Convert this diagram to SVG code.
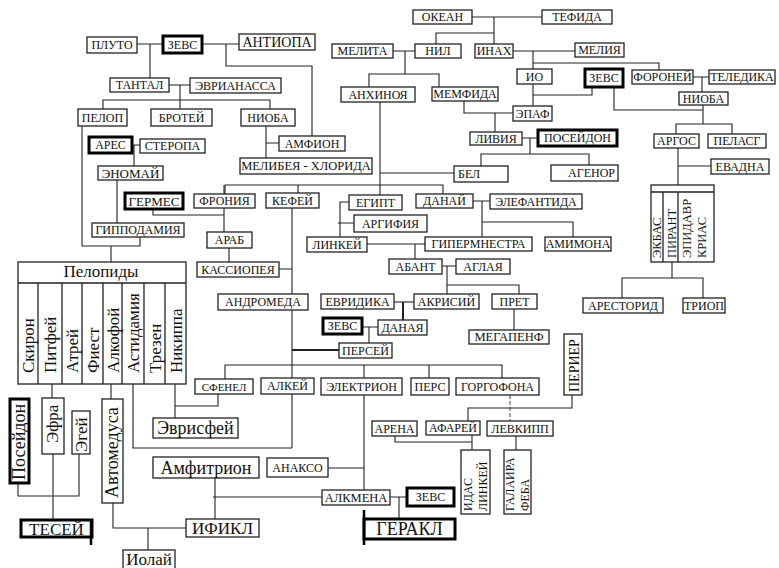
<svg xmlns="http://www.w3.org/2000/svg" width="779" height="568" viewBox="0 0 779 568">
<style>
.b{fill:#fff;stroke:#222;stroke-width:1.3}
.k{fill:#fff;stroke:#000;stroke-width:3}
text{font-family:"Liberation Serif","Times New Roman",serif;font-size:12px;fill:#111;text-anchor:middle}
.s{text-anchor:start}
.e{text-anchor:end}
.L{font-size:18px}
.M{font-size:17px}
.c path{fill:none;stroke:#222;stroke-width:1.1}
.tl{fill:none;stroke:#222;stroke-width:1.3}
</style>
<rect width="779" height="568" fill="#fff"/>
<g class="c" id="connectors">
<path d="M137,44H163M150,44V78M202,44H239M226,44V66H312V136"/>
<path d="M169,85H190M180,85V109M103,109V100H270V109"/>
<path d="M82,126V246H140V237M111,246V262"/>
<path d="M266,126V158M266,143H279"/>
<path d="M132,145H140M134,145V166M117,180V223"/>
<path d="M225,194V185H443V194M298,185V193"/>
<path d="M380,102V195M380,173H454"/>
<path d="M153,209V215H224M224,185V232M229,248V262"/>
<path d="M292,208V448M279,269H292"/>
<path d="M292,350H339" style="stroke-width:2"/>
<path d="M225,379V365H502V378M364,365V378M429,365V378"/>
<path d="M364,395V490M328,468H364"/>
<path d="M133,384V448H292"/>
<path d="M390,497H407M399,497V519"/>
<path d="M213,497H322M215,478V519"/>
<path d="M111,384V399M113,503V528H186M148,528V550"/>
<path d="M52,384V398M53,454V520M18,483V496H79V454"/>
<path d="M175,384V418M175,406H218V394"/>
<path d="M472,17H542M494,17V44M436,44V33H494"/>
<path d="M393,51H415M405,51V74M369,87V74H439V87"/>
<path d="M513,51H575M533,51V69M533,63H659V70"/>
<path d="M533,84V106M533,95H592V87"/>
<path d="M464,101V113H513M495,113V132"/>
<path d="M693,77H709M702,77V92"/>
<path d="M614,87V110H703M703,105V124M676,134V124H732V134"/>
<path d="M522,138H538M530,138V154M481,166V154H589V165"/>
<path d="M678,148V185M678,166H711"/>
<path d="M672,262V278M622,298V278H703V298"/>
<path d="M473,201H490M482,201V237M482,222H573V237"/>
<path d="M349,202H340V237M338,223H354"/>
<path d="M367,244H425M415,244V259"/>
<path d="M442,266H456M447,266V294M447,285H519V294"/>
<path d="M514,309V330"/>
<path d="M394,302H414"/>
<path d="M403,302V320" style="stroke-width:2"/>
<path d="M362,327H378M369,327V343"/>
<path d="M510,395V421" style="stroke-dasharray:4,2;stroke:#555"/>
<path d="M468,421V408H572V395"/>
<path d="M395,436V442H472M472,435V450M516,436V450"/>
</g>
<g id="pluto"><rect class="b" x="87" y="37" width="50" height="16"/><text x="112" y="49">ПЛУТО</text></g>
<g id="zeus1"><rect class="k" x="163" y="36" width="39" height="17"/><text x="182.5" y="48.7">ЗЕВС</text></g>
<g id="antiopa"><rect class="b" x="239" y="34" width="76" height="16"/><text x="277" y="46.9" style="font-size:14px">АНТИОПА</text></g>
<g id="tantal"><rect class="b" x="110" y="78" width="59" height="14"/><text x="139.5" y="89.2">ТАНТАЛ</text></g>
<g id="evrianassa"><rect class="b" x="190" y="78" width="91" height="15"/><text x="235.5" y="89.7">ЭВРИАНАССА</text></g>
<g id="pelop"><rect class="b" x="78" y="109" width="49" height="17"/><text x="102.5" y="121.7">ПЕЛОП</text></g>
<g id="brotei"><rect class="b" x="151" y="109" width="61" height="17"/><text x="181.5" y="121.7">БРОТЕЙ</text></g>
<g id="nioba1"><rect class="b" x="241" y="109" width="54" height="17"/><text x="268" y="121.7">НИОБА</text></g>
<g id="ares"><rect class="k" x="89" y="137" width="43" height="16"/><text x="110.5" y="149.2">АРЕС</text></g>
<g id="steropa"><rect class="b" x="140" y="139" width="65" height="14"/><text x="172.5" y="150.2">СТЕРОПА</text></g>
<g id="amfion"><rect class="b" x="279" y="136" width="66" height="15"/><text x="312" y="147.7">АМФИОН</text></g>
<g id="melibeya"><rect class="b" x="240" y="158" width="132" height="16"/><text x="306" y="170.4" style="font-size:12.5px">МЕЛИБЕЯ - ХЛОРИДА</text></g>
<g id="enomai"><rect class="b" x="98" y="166" width="65" height="14"/><text x="130.5" y="177.5" style="font-size:13px">ЭНОМАЙ</text></g>
<g id="germes"><rect class="k" x="125" y="193" width="58" height="16"/><text x="154" y="205.5" style="font-size:13px">ГЕРМЕС</text></g>
<g id="fronia"><rect class="b" x="194" y="194" width="61" height="14"/><text x="224.5" y="205.2">ФРОНИЯ</text></g>
<g id="kefei"><rect class="b" x="266" y="193" width="53" height="15"/><text x="292.5" y="204.7">КЕФЕЙ</text></g>
<g id="gippodamia"><rect class="b" x="92" y="223" width="92" height="14"/><text x="138" y="234.2">ГИППОДАМИЯ</text></g>
<g id="arab"><rect class="b" x="207" y="232" width="45" height="16"/><text x="229.5" y="244.2">АРАБ</text></g>
<g id="kassiopeya"><rect class="b" x="197" y="262" width="82" height="15"/><text x="238" y="273.7">КАССИОПЕЯ</text></g>
<g id="andromeda"><rect class="b" x="218" y="294" width="90" height="16"/><text x="263" y="306.2">АНДРОМЕДА</text></g>
<g id="okean"><rect class="b" x="413" y="10" width="59" height="14"/><text x="442.5" y="21.2">ОКЕАН</text></g>
<g id="tefida"><rect class="b" x="542" y="10" width="70" height="14"/><text x="577" y="21.2">ТЕФИДА</text></g>
<g id="melita"><rect class="b" x="332" y="44" width="61" height="14"/><text x="362.5" y="55.2">МЕЛИТА</text></g>
<g id="nil"><rect class="b" x="415" y="44" width="46" height="14"/><text x="438" y="55.2">НИЛ</text></g>
<g id="inah"><rect class="b" x="475" y="44" width="38" height="14"/><text x="494" y="55.2">ИНАХ</text></g>
<g id="melia"><rect class="b" x="575" y="43" width="49" height="14"/><text x="599.5" y="54.2">МЕЛИЯ</text></g>
<g id="io"><rect class="b" x="517" y="69" width="35" height="15"/><text x="534.5" y="80.7">ИО</text></g>
<g id="zeus2"><rect class="k" x="585" y="69" width="38" height="18"/><text x="604" y="82.2">ЗЕВС</text></g>
<g id="foronei"><rect class="b" x="632" y="70" width="61" height="14"/><text x="662.5" y="81.2">ФОРОНЕЙ</text></g>
<g id="teledika"><rect class="b" x="709" y="70" width="66" height="14"/><text x="742" y="81.2">ТЕЛЕДИКА</text></g>
<g id="nioba2"><rect class="b" x="679" y="92" width="49" height="13"/><text x="703.5" y="102.7">НИОБА</text></g>
<g id="anhinoya"><rect class="b" x="341" y="87" width="74" height="15"/><text x="378" y="98.7">АНХИНОЯ</text></g>
<g id="memfida"><rect class="b" x="432" y="87" width="66" height="14"/><text x="465" y="98.2">МЕМФИДА</text></g>
<g id="epaf"><rect class="b" x="513" y="106" width="39" height="15"/><text x="532.5" y="117.7">ЭПАФ</text></g>
<g id="livia"><rect class="b" x="470" y="132" width="52" height="13"/><text x="496" y="142.7">ЛИВИЯ</text></g>
<g id="poseidon1"><rect class="k" x="538" y="130" width="79" height="16"/><text x="577.5" y="142.2">ПОСЕЙДОН</text></g>
<g id="bel"><rect class="b" x="454" y="166" width="54" height="16"/><text class="s" x="458" y="178.2">БЕЛ</text></g>
<g id="agenor"><rect class="b" x="551" y="165" width="67" height="16"/><text class="e" x="615" y="177.2">АГЕНОР</text></g>
<g id="argos"><rect class="b" x="654" y="134" width="45" height="14"/><text x="676.5" y="145.2">АРГОС</text></g>
<g id="pelasg"><rect class="b" x="708" y="134" width="58" height="14"/><text x="737" y="145.2">ПЕЛАСГ</text></g>
<g id="evadna"><rect class="b" x="711" y="159" width="58" height="15"/><text x="740" y="170.7">ЕВАДНА</text></g>
<g id="argos-children">
<rect class="b" x="651" y="185" width="63" height="77"/>
<path class="tl" d="M651,192H714M663,192V262M678,192V262"/>
<text class="s" x="661" y="258" transform="rotate(-90 661 258)" style="font-size:12.5px">ЭКБАС</text>
<text class="s" x="676" y="258" transform="rotate(-90 676 258)" style="font-size:12.5px">ПИРАНТ</text>
<text class="s" x="691" y="258" transform="rotate(-90 691 258)" style="font-size:12.5px">ЭПИДАВР</text>
<text class="s" x="706" y="258" transform="rotate(-90 706 258)" style="font-size:12.5px">КРИАС</text>
</g>
<g id="arestorid"><rect class="b" x="583" y="298" width="80" height="15"/><text x="623" y="309.7">АРЕСТОРИД</text></g>
<g id="triop"><rect class="b" x="683" y="298" width="42" height="15"/><text x="704" y="309.7">ТРИОП</text></g>
<g id="egipt"><rect class="b" x="349" y="195" width="53" height="15"/><text x="375.5" y="206.7">ЕГИПТ</text></g>
<g id="danai"><rect class="b" x="416" y="194" width="57" height="14"/><text x="444.5" y="205.2">ДАНАЙ</text></g>
<g id="elefantida"><rect class="b" x="490" y="194" width="92" height="15"/><text x="536" y="205.7">ЭЛЕФАНТИДА</text></g>
<g id="argifia"><rect class="b" x="354" y="215" width="73" height="17"/><text x="390.5" y="227.7">АРГИФИЯ</text></g>
<g id="linkei1"><rect class="b" x="307" y="237" width="60" height="15"/><text x="337" y="248.7">ЛИНКЕЙ</text></g>
<g id="gipermnestra"><rect class="b" x="425" y="237" width="107" height="14"/><text x="478.5" y="248.2">ГИПЕРМНЕСТРА</text></g>
<g id="amimona"><rect class="b" x="545" y="237" width="66" height="14"/><text x="578" y="248.2">АМИМОНА</text></g>
<g id="abant"><rect class="b" x="389" y="259" width="53" height="15"/><text x="415.5" y="270.7">АБАНТ</text></g>
<g id="aglaya"><rect class="b" x="456" y="259" width="54" height="15"/><text x="483" y="270.7">АГЛАЯ</text></g>
<g id="evridika"><rect class="b" x="321" y="294" width="73" height="15"/><text x="357.5" y="305.7">ЕВРИДИКА</text></g>
<g id="akrisii"><rect class="b" x="414" y="294" width="65" height="15"/><text x="446.5" y="305.7">АКРИСИЙ</text></g>
<g id="pret"><rect class="b" x="492" y="294" width="45" height="15"/><text x="514.5" y="305.7">ПРЕТ</text></g>
<g id="megapenf"><rect class="b" x="469" y="330" width="80" height="14"/><text x="509" y="341.4" style="font-size:12.5px">МЕГАПЕНФ</text></g>
<g id="zeus3"><rect class="k" x="323" y="318" width="39" height="16"/><text x="342.5" y="330.2">ЗЕВС</text></g>
<g id="danaya"><rect class="b" x="378" y="320" width="49" height="15"/><text x="402.5" y="331.7">ДАНАЯ</text></g>
<g id="persei"><rect class="b" x="339" y="343" width="53" height="15"/><text x="365.5" y="354.7">ПЕРСЕЙ</text></g>
<g id="sfenel"><rect class="b" x="195" y="379" width="58" height="15"/><text x="224" y="390.5" style="font-size:11px">СФЕНЕЛ</text></g>
<g id="alkei"><rect class="b" x="261" y="378" width="53" height="16"/><text x="287.5" y="390.2">АЛКЕЙ</text></g>
<g id="elektrion"><rect class="b" x="321" y="378" width="81" height="17"/><text x="361.5" y="390.7">ЭЛЕКТРИОН</text></g>
<g id="pers"><rect class="b" x="411" y="378" width="38" height="17"/><text x="430" y="390.7">ПЕРС</text></g>
<g id="gorgofona"><rect class="b" x="456" y="378" width="83" height="17"/><text x="497.5" y="390.7">ГОРГОФОНА</text></g>
<g id="perier"><rect class="b" x="564" y="334" width="18" height="61"/><text class="s" x="579" y="392" transform="rotate(-90 579 392)" style="font-size:14px">ПЕРИЕР</text></g>
<g id="arena"><rect class="b" x="372" y="421" width="45" height="15"/><text x="394.5" y="432.7">АРЕНА</text></g>
<g id="afarei"><rect class="b" x="426" y="421" width="54" height="14"/><text x="453" y="432.2">АФАРЕЙ</text></g>
<g id="levkipp"><rect class="b" x="487" y="421" width="66" height="15"/><text x="520" y="432.7">ЛЕВКИПП</text></g>
<g id="idas-linkei"><rect class="b" x="461" y="450" width="29" height="64"/>
<text class="s" x="472" y="511" transform="rotate(-90 472 511)">ИДАС</text>
<text class="s" x="487" y="511" transform="rotate(-90 487 511)">ЛИНКЕЙ</text></g>
<g id="galaira-feba"><rect class="b" x="504" y="450" width="27" height="64"/>
<text class="s" x="514" y="511" transform="rotate(-90 514 511)">ГАЛАИРА</text>
<text class="s" x="529" y="511" transform="rotate(-90 529 511)">ФЕБА</text></g>
<g id="anakso"><rect class="b" x="267" y="458" width="61" height="19"/><text x="297.5" y="471.7">АНАКСО</text></g>
<g id="alkmena"><rect class="b" x="322" y="490" width="68" height="15"/><text x="356" y="501.9" style="font-size:12.5px">АЛКМЕНА</text></g>
<g id="zeus4"><rect class="k" x="407" y="488" width="47" height="18"/><text x="430.5" y="501.2">ЗЕВС</text></g>
<g id="gerakl"><rect class="k" x="364" y="519" width="91" height="20"/><path d="M364,510V545" stroke="#000" stroke-width="2.5"/><text class="L" x="409.5" y="535.3">ГЕРАКЛ</text></g>
<g id="amfitrion"><rect class="b" x="153" y="457" width="106" height="21"/><text class="L" x="206" y="473.8">Амфитрион</text></g>
<g id="ifikl"><rect class="b" x="186" y="519" width="73" height="18"/><text class="M" x="222.5" y="534">ИФИКЛ</text></g>
<g id="iolai"><rect class="b" x="123" y="550" width="52" height="22"/><text class="M" x="149" y="565">Иолай</text></g>
<g id="avtomedusa"><rect class="b" x="102" y="399" width="21" height="104"/><text class="s L" x="118" y="498" transform="rotate(-90 118 498)">Автомедуса</text></g>
<g id="poseidon2"><rect class="k" x="10" y="399" width="19" height="84"/><text class="s L" x="25" y="480" transform="rotate(-90 25 480)">Посейдон</text></g>
<g id="efra"><rect class="b" x="42" y="398" width="22" height="56"/><text class="s M" x="58" y="443" transform="rotate(-90 58 443)">Эфра</text></g>
<g id="egei"><rect class="b" x="72" y="411" width="18" height="43"/><text class="s M" x="87" y="452" transform="rotate(-90 87 452)">Эгей</text></g>
<g id="tesei"><rect class="k" x="21" y="520" width="71" height="17"/><path d="M91,520V545" stroke="#000" stroke-width="2.5"/><text class="M" x="56.5" y="534.5">ТЕСЕЙ</text></g>
<g id="evrisfei"><rect class="b" x="153" y="418" width="85" height="20"/><text class="L" x="195.5" y="434.3">Эврисфей</text></g>
<g id="pelopidy">
<rect class="b" x="18" y="262" width="168" height="122"/>
<path class="tl" d="M18,283H186M38,283V384M62,283V384M82,283V384M103,283V384M122,283V384M144,283V384M165,283V384"/>
<text class="M" x="101" y="277">Пелопиды</text>
<text class="s M" x="34" y="373" transform="rotate(-90 34 373)">Скирон</text>
<text class="s M" x="56" y="373" transform="rotate(-90 56 373)">Питфей</text>
<text class="s M" x="78" y="373" transform="rotate(-90 78 373)">Атрей</text>
<text class="s M" x="98.5" y="373" transform="rotate(-90 98.5 373)">Фиест</text>
<text class="s M" x="118.5" y="373" transform="rotate(-90 118.5 373)">Алкофой</text>
<text class="s M" x="139" y="373" transform="rotate(-90 139 373)">Астидамия</text>
<text class="s M" x="160.5" y="373" transform="rotate(-90 160.5 373)">Трезен</text>
<text class="s M" x="181.5" y="373" transform="rotate(-90 181.5 373)">Никиппа</text>
</g>
</svg>
